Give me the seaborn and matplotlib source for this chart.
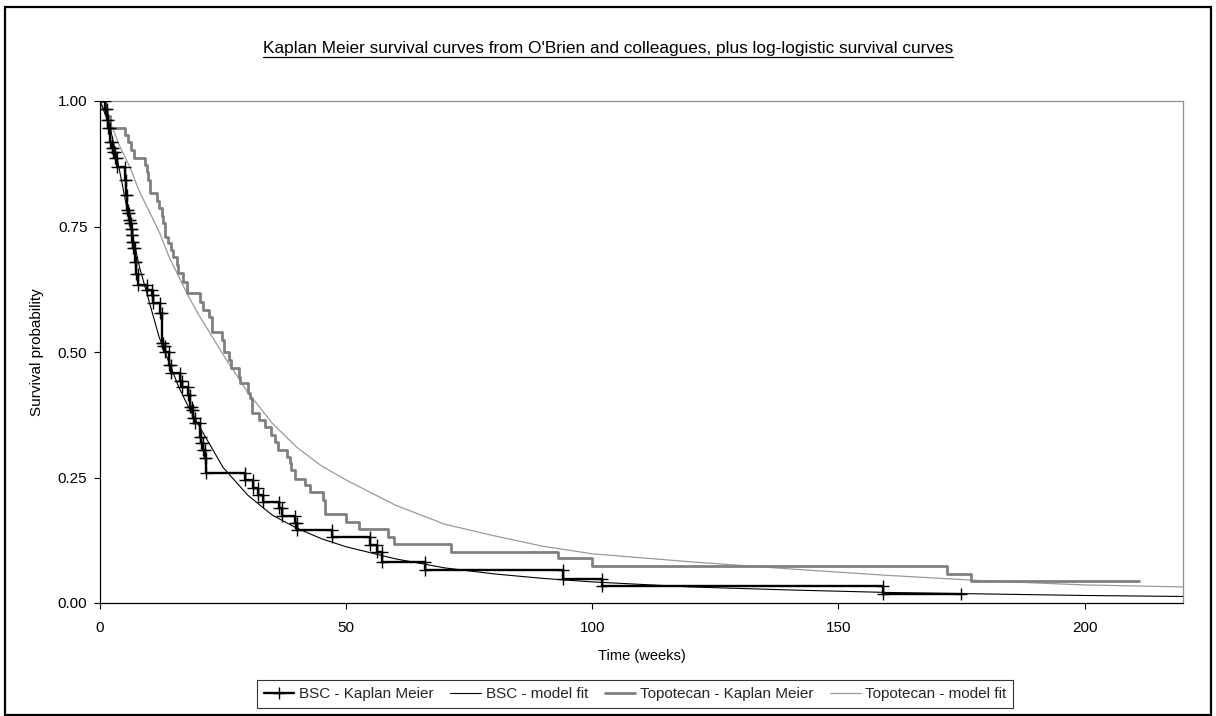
import numpy as np
import pandas as pd
import matplotlib
matplotlib.use("Agg")
import matplotlib.pyplot as plt
from matplotlib.lines import Line2D
from matplotlib.patches import Rectangle
import seaborn as sns

# ---------------- data ----------------
title = "Kaplan Meier survival curves from O'Brien and colleagues, plus log-logistic survival curves"
x_label = "Time (weeks)"
y_label = "Survival probability"
x_ticks = [0, 50, 100, 150, 200]
y_ticks = [0.0, 0.25, 0.5, 0.75, 1.0]

# BSC Kaplan-Meier: event times and survival after each drop
bsc_km_t = [0, 1.0, 1.4, 1.7, 2.0, 2.4, 2.7, 3.0, 3.4, 5.07, 5.2, 5.4, 5.7, 5.9, 6.1, 6.3, 6.4,
            6.6, 6.8, 7.2, 7.4, 7.8, 9.5, 10.5, 10.8, 12.2, 12.5, 12.8, 13.2, 14.0, 14.5, 16.2,
            16.6, 17.9, 18.3, 18.6, 18.9, 19.3, 20.4, 20.6, 21.0, 21.3, 21.6, 29.4, 31.0, 32.0,
            33.1, 36.3, 36.9, 39.6, 40.0, 47.1, 54.8, 56.2, 57.2, 66.0, 94.0, 102.0, 159.0]
bsc_km_s = [1.0, 0.985, 0.962, 0.946, 0.919, 0.906, 0.899, 0.886, 0.869, 0.843, 0.813, 0.783,
            0.776, 0.763, 0.756, 0.746, 0.733, 0.72, 0.707, 0.68, 0.655, 0.633, 0.624, 0.614,
            0.597, 0.577, 0.517, 0.511, 0.50, 0.475, 0.458, 0.442, 0.431, 0.414, 0.39, 0.384,
            0.368, 0.358, 0.331, 0.318, 0.305, 0.288, 0.258, 0.245, 0.229, 0.215, 0.201, 0.189,
            0.173, 0.159, 0.145, 0.131, 0.116, 0.102, 0.082, 0.066, 0.048, 0.033, 0.017]
bsc_km_end = 175.0

# Topotecan Kaplan-Meier
top_km_t = [0, 1.0, 1.5, 2.0, 5.07, 5.75, 6.3, 6.97, 9.1, 9.5, 9.8, 10.1, 11.5, 12.0, 12.5, 12.8,
            13.2, 13.9, 14.4, 14.9, 15.6, 15.9, 16.9, 17.6, 20.3, 21.0, 22.2, 22.7, 24.7, 25.2,
            26.2, 26.7, 28.3, 28.5, 30.1, 30.4, 30.8, 32.3, 33.5, 34.8, 35.5, 36.2, 37.9, 38.5,
            38.9, 39.6, 41.6, 42.6, 45.3, 45.8, 50.0, 52.7, 58.5, 59.8, 71.3, 93.0, 100.0,
            172.0, 177.0]
top_km_s = [1.0, 0.985, 0.97, 0.946, 0.932, 0.919, 0.902, 0.887, 0.872, 0.859, 0.843, 0.816, 0.80,
            0.787, 0.77, 0.756, 0.73, 0.717, 0.703, 0.69, 0.673, 0.657, 0.64, 0.617, 0.60, 0.584,
            0.570, 0.54, 0.524, 0.50, 0.484, 0.468, 0.451, 0.438, 0.418, 0.408, 0.378, 0.365,
            0.351, 0.335, 0.321, 0.305, 0.291, 0.278, 0.265, 0.248, 0.235, 0.222, 0.205, 0.177,
            0.162, 0.147, 0.132, 0.118, 0.102, 0.089, 0.074, 0.058, 0.044]
top_km_end = 211.0

# log-logistic model fits (read at selected times)
fit_t = [0, 2, 4, 6, 8, 10, 12, 14, 16, 18, 20, 25, 30, 35, 40, 45, 50, 60, 70, 80, 90, 100,
         120, 140, 160, 180, 200, 220]
bsc_fit_s = [1.0, 0.95, 0.86, 0.76, 0.67, 0.60, 0.53, 0.48, 0.43, 0.39, 0.355, 0.27, 0.215,
             0.175, 0.149, 0.128, 0.112, 0.088, 0.070, 0.058, 0.049, 0.042, 0.032, 0.026, 0.021,
             0.018, 0.015, 0.013]
top_fit_s = [1.0, 0.96, 0.91, 0.87, 0.82, 0.78, 0.74, 0.69, 0.65, 0.61, 0.575, 0.495, 0.42,
             0.358, 0.31, 0.273, 0.245, 0.195, 0.157, 0.134, 0.113, 0.098, 0.082, 0.068, 0.055,
             0.044, 0.036, 0.032]

series_names = ["BSC - Kaplan Meier", "BSC - model fit",
                "Topotecan - Kaplan Meier", "Topotecan - model fit"]


def step_corners(t, s, t_end):
    xs, ys = [t[0]], [s[0]]
    for i in range(1, len(t)):
        xs += [t[i], t[i]]
        ys += [s[i - 1], s[i]]
    xs.append(t_end)
    ys.append(s[-1])
    return xs, ys


bx, by = step_corners(bsc_km_t, bsc_km_s, bsc_km_end)
tx, ty = step_corners(top_km_t, top_km_s, top_km_end)
df_bkm = pd.DataFrame({"t": bx, "s": by})
df_tkm = pd.DataFrame({"t": tx, "s": ty})
df_bfit = pd.DataFrame({"t": fit_t, "s": bsc_fit_s})
df_tfit = pd.DataFrame({"t": fit_t, "s": top_fit_s})

# ---------------- figure ----------------
sns.set_theme(style="white")
plt.rcParams["font.family"] = ["Liberation Sans", "DejaVu Sans"]

W, H = 1216, 716
fig = plt.figure(figsize=(W / 100, H / 100), dpi=100)
fig.patch.set_facecolor("white")
ax = fig.add_axes([100 / W, (H - 603) / H, (1183 - 100) / W, (603 - 101) / H])

gray_km = "#808080"
gray_fit = "#999999"

sns.lineplot(data=df_tfit, x="t", y="s", sort=False, estimator=None, ax=ax,
             color=gray_fit, linewidth=0.9, label=series_names[3], zorder=2)
sns.lineplot(data=df_tkm, x="t", y="s", sort=False, estimator=None, ax=ax,
             color=gray_km, linewidth=2.0, label=series_names[2], zorder=3)
sns.lineplot(data=df_bfit, x="t", y="s", sort=False, estimator=None, ax=ax,
             color="black", linewidth=0.8, label=series_names[1], zorder=4)
sns.lineplot(data=df_bkm, x="t", y="s", sort=False, estimator=None, ax=ax,
             color="black", linewidth=1.7, marker="+", markersize=8, markeredgewidth=1.0,
             markeredgecolor="black", markerfacecolor="black",
             label=series_names[0], zorder=5)

ax.set_xlim(0, 220)
ax.set_ylim(0, 1.0)
ax.set_xticks(x_ticks)
ax.set_xticklabels([str(v) for v in x_ticks])
ax.set_yticks(y_ticks)
ax.set_yticklabels([f"{v:.2f}" for v in y_ticks])
ax.tick_params(axis="both", which="major", direction="out", length=4, width=0.8,
               color="black", labelsize=11, labelcolor="black", pad=5,
               bottom=True, left=True)
ax.tick_params(axis="x", pad=9)
ax.set_xlabel(x_label, fontsize=10.5, color="black", labelpad=10)
ax.set_ylabel(y_label, fontsize=11, color="black", labelpad=10)

for side in ["left", "bottom"]:
    ax.spines[side].set_color("black")
    ax.spines[side].set_linewidth(0.9)
for side in ["top", "right"]:
    ax.spines[side].set_visible(True)
    ax.spines[side].set_color("#909090")
    ax.spines[side].set_linewidth(0.9)
ax.grid(False)
ax.set_facecolor("white")

# legend
handles = [
    Line2D([], [], color="black", linewidth=1.7, marker="+", markersize=8, markeredgewidth=1.0),
    Line2D([], [], color="black", linewidth=0.8),
    Line2D([], [], color=gray_km, linewidth=2.0),
    Line2D([], [], color=gray_fit, linewidth=0.9),
]
if ax.get_legend() is not None:
    ax.get_legend().remove()
leg = fig.legend(handles, series_names, loc="lower left", bbox_to_anchor=(257 / W, (H - 708) / H),
                 ncol=4, frameon=True, fancybox=False, shadow=False, edgecolor="black",
                 fontsize=11, handlelength=2.0, handletextpad=0.3, columnspacing=1.1,
                 borderpad=0.45, borderaxespad=0)
leg.get_frame().set_linewidth(0.8)

# title (underlined)
ttl = fig.text(0.5, (H - 48) / H, title, ha="center", va="center", fontsize=12.4, color="black")
fig.canvas.draw()
bb = ttl.get_window_extent(renderer=fig.canvas.get_renderer())
uy = (bb.y0 - 1) / H
fig.add_artist(Line2D([bb.x0 / W, bb.x1 / W], [uy, uy], transform=fig.transFigure,
                      color="black", linewidth=0.9))

# chart-area border
fig.add_artist(Rectangle((5 / W, 1.5 / H), (1211 - 5) / W, (709 - 1.5) / H,
                         transform=fig.transFigure, fill=False, edgecolor="black",
                         linewidth=1.6))

fig.savefig("out.png", dpi=100, facecolor="white")
